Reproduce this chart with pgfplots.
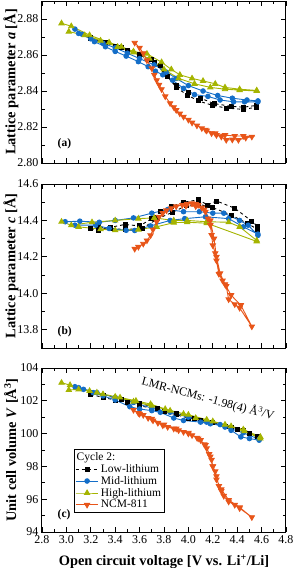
\documentclass[border=0pt]{standalone}
\usepackage{fontspec}
\setmainfont{Liberation Serif}
\usepackage{pgfplots}
\pgfplotsset{compat=1.18}
\definecolor{cblue}{RGB}{20,110,200}
\definecolor{colive}{RGB}{165,180,0}
\definecolor{corange}{RGB}{232,85,25}
\tikzset{plab/.style={font=\fontsize{11.5}{12}\selectfont\bfseries, anchor=west}}
\pgfplotsset{
  panel/.style={
    width=244pt, scale only axis,
    xmin=2.8, xmax=4.8,
    xtick={2.8,3.0,3.2,3.4,3.6,3.8,4.0,4.2,4.4,4.6,4.8},
    minor x tick num=1,
    tick align=inside,
    major tick length=5pt, minor tick length=3pt,
    every tick/.style={black, line width=0.8pt},
    axis line style={line width=1pt},
    tick label style={font=\fontsize{12}{12}\selectfont},
    xlabel style={font=\fontsize{14.4}{15}\selectfont\bfseries, yshift=-4pt},
    /pgf/number format/assume math mode=true,
    every axis y label/.style={at={(axis description cs:-0.127,0.5)}, rotate=90, anchor=center, font=\fontsize{14.4}{15}\selectfont\bfseries},
    x tick label style={/pgf/number format/.cd, fixed, fixed zerofill, precision=1},
  },
  lowli/.style={black, dashed, line width=0.9pt, mark=square*, mark size=2pt, mark options={solid, fill=black}},
  midli/.style={cblue, solid, line width=0.9pt, mark=*, mark size=2.3pt, mark options={solid, fill=cblue}},
  highli/.style={colive, solid, line width=0.9pt, mark=triangle*, mark size=3pt, mark options={solid, fill=colive}},
  ncm/.style={corange, solid, line width=0.9pt, mark=triangle*, mark size=3pt, mark options={solid, fill=corange, rotate=180}},
}
\begin{document}
\begin{tikzpicture}
\useasboundingbox (0,0) rectangle (293pt,-568pt);
% ---------------- panel (a)
\begin{axis}[panel, at={(42pt,-1pt)}, anchor=north west, height=162pt,
  ymin=2.80, ymax=2.89, ytick={2.80,2.82,2.84,2.86,2.88}, minor y tick num=1,
  xticklabels={},
  y tick label style={/pgf/number format/.cd, fixed, fixed zerofill, precision=2},
  ylabel={Lattice parameter \textit{a} [Å]}]
\addplot[lowli] coordinates {(3.20,2.8694)(3.30,2.8672)(3.40,2.8650)(3.50,2.8628)(3.60,2.8605)(3.70,2.8575)(3.77,2.8540)(3.83,2.8480)(3.90,2.8420)(3.99,2.8378)(4.08,2.8345)(4.20,2.8320)(4.31,2.8305)(4.45,2.8298)(4.56,2.8310)
(4.56,2.8320)(4.45,2.8310)(4.35,2.8315)(4.21,2.8330)(4.10,2.8360)(4.00,2.8390)(3.90,2.8430)(3.80,2.8500)(3.72,2.8560)(3.60,2.8600)(3.45,2.8640)(3.32,2.8668)(3.20,2.8695)};
\addplot[midli] coordinates {(3.07,2.8744)(3.13,2.8715)(3.23,2.8674)(3.32,2.8646)(3.40,2.8620)(3.49,2.8594)(3.59,2.8563)(3.67,2.8535)(3.73,2.8510)(3.79,2.8490)(3.87,2.8460)(3.96,2.8415)(4.05,2.8380)(4.16,2.8370)(4.26,2.8350)(4.37,2.8340)(4.46,2.8340)(4.57,2.8340)
(4.57,2.8345)(4.48,2.8350)(4.36,2.8360)(4.24,2.8375)(4.12,2.8400)(4.00,2.8430)(3.90,2.8470)(3.82,2.8505)(3.72,2.8545)(3.60,2.8580)(3.50,2.8610)(3.40,2.8640)(3.30,2.8665)(3.20,2.8690)(3.10,2.8720)};
\addplot[highli] coordinates {(2.96,2.8776)(3.04,2.8760)(3.19,2.8710)(3.35,2.8670)(3.45,2.8646)(3.55,2.8620)(3.66,2.8607)(3.78,2.8560)(3.86,2.8520)(3.93,2.8490)(4.03,2.8470)(4.12,2.8456)(4.22,2.8440)(4.30,2.8420)(4.42,2.8410)(4.56,2.8403)
(4.56,2.8400)(4.42,2.8405)(4.30,2.8410)(4.18,2.8420)(4.05,2.8440)(3.92,2.8470)(3.80,2.8520)(3.68,2.8580)(3.55,2.8615)(3.42,2.8645)(3.28,2.8680)(3.15,2.8710)(3.02,2.8730)};
\addplot[ncm] coordinates {(3.56,2.8668)(3.60,2.8640)(3.63,2.8610)(3.66,2.8570)(3.70,2.8526)(3.72,2.8490)(3.74,2.8460)(3.76,2.8435)(3.78,2.8410)(3.81,2.8370)(3.85,2.8332)(3.88,2.8310)(3.90,2.8294)(3.93,2.8275)(3.96,2.8257)(4.00,2.8240)(4.03,2.8224)(4.07,2.8208)(4.11,2.8193)(4.15,2.8180)(4.19,2.8165)(4.23,2.8155)(4.27,2.8146)(4.31,2.8128)(4.36,2.8130)(4.41,2.8128)(4.47,2.8140)(4.52,2.8146)
(4.45,2.8150)(4.38,2.8150)(4.30,2.8155)(4.22,2.8165)(4.14,2.8185)};
\node[plab] at (rel axis cs:0.05,0.117) {(a)};
\end{axis}
% ---------------- panel (b)
\begin{axis}[panel, at={(42pt,-184pt)}, anchor=north west, height=164pt,
  ymin=13.7, ymax=14.6, ytick={13.8,14.0,14.2,14.4,14.6}, minor y tick num=1,
  xticklabels={},
  y tick label style={/pgf/number format/.cd, fixed, fixed zerofill, precision=1},
  ylabel={Lattice parameter \textit{c} [Å]}]
\addplot[lowli] coordinates {(3.20,14.355)(3.26,14.346)(3.36,14.362)(3.48,14.378)(3.60,14.370)(3.70,14.410)(3.77,14.448)(3.86,14.476)(3.96,14.500)(4.08,14.513)(4.16,14.485)(4.23,14.507)(4.38,14.467)(4.52,14.396)(4.57,14.365)
(4.57,14.350)(4.48,14.385)(4.35,14.430)(4.20,14.470)(4.08,14.490)(3.98,14.480)(3.87,14.445)(3.75,14.410)(3.62,14.356)(3.48,14.350)(3.36,14.356)(3.26,14.365)};
\addplot[midli] coordinates {(2.99,14.393)(3.11,14.396)(3.27,14.390)(3.40,14.400)(3.55,14.414)(3.70,14.440)(3.83,14.460)(3.96,14.448)(4.09,14.448)(4.20,14.440)(4.29,14.440)(4.42,14.400)(4.49,14.374)(4.57,14.318)
(4.57,14.325)(4.45,14.365)(4.33,14.410)(4.14,14.420)(3.97,14.410)(3.85,14.400)(3.69,14.370)(3.56,14.345)(3.49,14.346)(3.35,14.356)(3.24,14.374)(3.07,14.374)};
\addplot[highli] coordinates {(2.96,14.393)(3.04,14.374)(3.21,14.390)(3.40,14.400)(3.59,14.410)(3.72,14.414)(3.88,14.400)(3.99,14.400)(4.15,14.393)(4.33,14.390)(4.42,14.365)(4.56,14.290)
(4.56,14.285)(4.15,14.385)(3.99,14.390)(3.88,14.388)(3.74,14.365)(3.59,14.350)(3.40,14.346)(3.28,14.352)(3.10,14.365)};
\addplot[ncm] coordinates {(3.56,14.244)(3.59,14.255)(3.63,14.272)(3.66,14.290)(3.69,14.318)(3.71,14.350)(3.74,14.393)(3.76,14.420)(3.79,14.440)(3.82,14.455)(3.86,14.467)(3.90,14.477)(3.95,14.485)(3.99,14.490)(4.03,14.494)(4.06,14.490)(4.08,14.485)(4.11,14.470)(4.14,14.448)(4.16,14.410)(4.18,14.374)(4.19,14.320)(4.20,14.263)(4.22,14.220)(4.23,14.180)(4.25,14.106)(4.28,14.070)(4.31,14.040)(4.33,13.967)(4.38,13.940)(4.42,13.920)(4.52,13.818)
(4.43,13.935)(4.35,13.990)(4.30,14.050)(4.26,14.110)(4.23,14.200)(4.21,14.300)(4.18,14.400)(4.13,14.460)(4.06,14.478)(3.98,14.480)};
\node[plab] at (rel axis cs:0.05,0.098) {(b)};
\end{axis}
% ---------------- panel (c)
\begin{axis}[panel, at={(42pt,-368pt)}, anchor=north west, height=164pt,
  ymin=94, ymax=104, ytick={94,96,98,100,102,104}, minor y tick num=1,
  xlabel={Open circuit voltage [V vs. Li\textsuperscript{+}/Li]},
  ylabel={Unit cell volume \textit{V} [Å\textsuperscript{3}]},
  legend style={at={(axis description cs:0.131,0.506)}, anchor=north west, draw=black, line width=0.6pt,
    font=\fontsize{11.5}{12}\selectfont, inner sep=1pt, row sep=-1.5pt},
  legend cell align=left,
  legend image code/.code={\draw[mark repeat=2,mark phase=2] plot coordinates {(0cm,0cm)(0.4cm,0cm)(0.8cm,0cm)};}]
\addlegendimage{empty legend}\addlegendentry{\hspace*{-0.85cm}Cycle 2:}
\addplot[lowli] coordinates {(3.20,102.40)(3.30,102.20)(3.40,102.05)(3.50,101.90)(3.60,101.70)(3.70,101.55)(3.80,101.35)(3.90,101.15)(4.00,100.95)(4.10,100.80)(4.20,100.65)(4.30,100.45)(4.40,100.25)(4.50,100.00)(4.57,99.80)
(4.57,99.85)(4.45,100.20)(4.35,100.40)(4.20,100.70)(4.05,100.95)(3.90,101.25)(3.75,101.55)(3.60,101.85)(3.45,102.10)(3.30,102.35)(3.20,102.50)};
\addlegendentry{Low-lithium}
\addplot[midli] coordinates {(3.07,102.86)(3.14,102.70)(3.22,102.50)(3.30,102.30)(3.40,102.05)(3.52,101.64)(3.60,101.50)(3.70,101.40)(3.77,101.30)(3.88,100.95)(3.96,100.80)(4.10,100.70)(4.18,100.60)(4.26,100.55)(4.35,100.20)(4.43,99.80)(4.50,99.70)(4.58,99.60)
(4.58,99.65)(4.45,100.05)(4.30,100.40)(4.15,100.70)(4.00,101.00)(3.85,101.30)(3.70,101.55)(3.55,101.90)(3.40,102.20)(3.25,102.50)(3.10,102.80)};
\addlegendentry{Mid-lithium}
\addplot[highli] coordinates {(2.96,103.10)(3.03,102.96)(3.19,102.60)(3.30,102.40)(3.44,102.20)(3.57,102.00)(3.69,101.80)(3.81,101.50)(3.96,101.20)(4.06,100.95)(4.20,100.75)(4.35,100.45)(4.46,100.15)(4.59,99.70)
(4.59,99.80)(4.45,100.25)(4.30,100.55)(4.15,100.85)(4.00,101.15)(3.85,101.40)(3.70,101.70)(3.55,101.95)(3.40,102.25)(3.25,102.50)(3.10,102.70)(3.02,102.66)};
\addlegendentry{High-lithium}
\addplot[ncm] coordinates {(3.55,101.44)(3.59,101.25)(3.63,101.13)(3.67,100.95)(3.71,100.80)(3.75,100.65)(3.79,100.50)(3.83,100.40)(3.88,100.30)(3.92,100.20)(3.96,100.10)(4.00,100.00)(4.03,99.90)(4.07,99.75)(4.10,99.60)(4.13,99.35)(4.15,99.10)(4.17,98.75)(4.19,98.40)(4.20,98.00)(4.22,97.70)(4.23,97.40)(4.25,96.80)(4.27,96.50)(4.29,96.20)(4.33,95.85)(4.38,95.65)(4.42,95.45)(4.52,94.90)
(4.42,95.50)(4.33,95.95)(4.27,96.60)(4.23,97.20)(4.20,98.00)(4.18,98.60)(4.14,99.30)(4.08,99.70)(4.00,100.05)(3.90,100.30)(3.80,100.55)(3.70,100.90)(3.60,101.20)};
\addlegendentry{NCM-811}
\node[font=\fontsize{12}{12}\selectfont, rotate=-15] at (axis cs:4.16,102.12) {LMR-NCMs: -1.98(4) Å\textsuperscript{3}/V};
\node[plab] at (rel axis cs:0.05,0.104) {(c)};
\end{axis}
\end{tikzpicture}
\end{document}
